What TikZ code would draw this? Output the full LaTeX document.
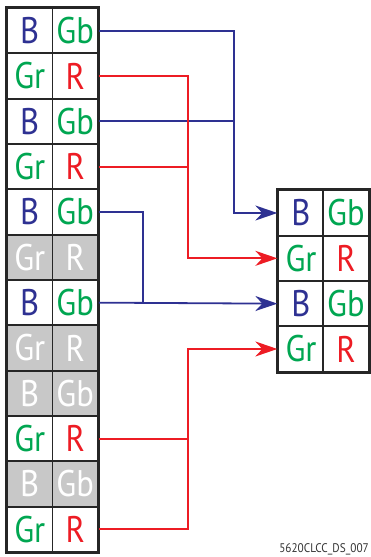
\documentclass[tikz,border=0pt]{standalone}
\usepackage{fontspec}
\usetikzlibrary{arrows.meta}
\newfontfamily\cellfont[FakeStretch=0.88]{PT Sans}
\newfontfamily\capfont[FakeStretch=0.9]{PT Sans}
\definecolor{cblue}{HTML}{2E3192}
\definecolor{cred}{HTML}{ED1C24}
\definecolor{cgreen}{HTML}{00A651}
\definecolor{cgray}{HTML}{C8C8C8}
\tikzset{
  cell/.style={draw=black!85, line width=1.8pt, minimum width=45.5pt, minimum height=45.33pt,
    inner sep=0pt, font=\cellfont\fontsize{37}{37}\selectfont, fill=white},
  gcell/.style={cell, fill=cgray, text=white},
  bl/.style={draw=cblue, line width=1.8pt},
  rd/.style={draw=cred, line width=1.8pt},
  arr/.style={-{Stealth[length=22pt,width=15pt,inset=7pt]}},
  frame/.style={draw=black!85, line width=3pt}
}
\begin{document}
\begin{tikzpicture}[x=1pt,y=-1pt]
\useasboundingbox (0,0) rectangle (370,557);
% left column cells
\foreach \i/\ta/\ca/\tb/\cb/\st in {1/B/cblue/Gb/cgreen/cell,2/Gr/cgreen/R/cred/cell,3/B/cblue/Gb/cgreen/cell,4/Gr/cgreen/R/cred/cell,5/B/cblue/Gb/cgreen/cell,6/Gr/white/R/white/gcell,7/B/cblue/Gb/cgreen/cell,8/Gr/white/R/white/gcell,9/B/white/Gb/white/gcell,10/Gr/cgreen/R/cred/cell,11/B/white/Gb/white/gcell,12/Gr/cgreen/R/cred/cell}{
  \node[\st, text=\ca] (L\i l) at (29.75, {8+45.33*(\i-0.5)}) {\ta};
  \node[\st, text=\cb] (L\i r) at (75.25, {8+45.33*(\i-0.5)}) {\tb};
}
\draw[frame] (L1l.north west) rectangle (L12r.south east);
% right grid
\foreach \i/\ta/\ca/\tb/\cb in {1/B/cblue/Gb/cgreen,2/Gr/cgreen/R/cred,3/B/cblue/Gb/cgreen,4/Gr/cgreen/R/cred}{
  \node[cell, text=\ca] (R\i l) at (301, {190.33+45.33*(\i-0.5)}) {\ta};
  \node[cell, text=\cb] (R\i r) at (346, {190.33+45.33*(\i-0.5)}) {\tb};
}
\draw[frame] (R1l.north west) rectangle (R4r.south east);
% bus x positions
\coordinate (xb) at (234,0);
\coordinate (xr) at (188,0);
\coordinate (xc) at (143,0);
% blue connectors
\draw[bl,arr] (L1r.east) -| (xb |- R1l.west) -- (R1l.west);
\draw[bl] (L3r.east) -- (xb |- L3r.east);
\draw[bl] (L5r.east) -| (xc |- R3l.west);
\draw[bl,arr] (L7r.east) -- (R3l.west);
% red connectors
\draw[rd,arr] (L2r.east) -| (xr |- R2l.west) -- (R2l.west);
\draw[rd] (L4r.east) -- (xr |- L4r.east);
\draw[rd,arr] (L10r.east) -| (xr |- R4l.west) -- (R4l.west);
\draw[rd] (L12r.east) -| (xr |- L10r.east);
% caption
\node[anchor=east, inner sep=0pt, font=\capfont\fontsize{12.5}{12.5}\selectfont, text=black!80] (cap) at (369,549) {5620CLCC\_DS\_007};
\end{tikzpicture}
\end{document}
